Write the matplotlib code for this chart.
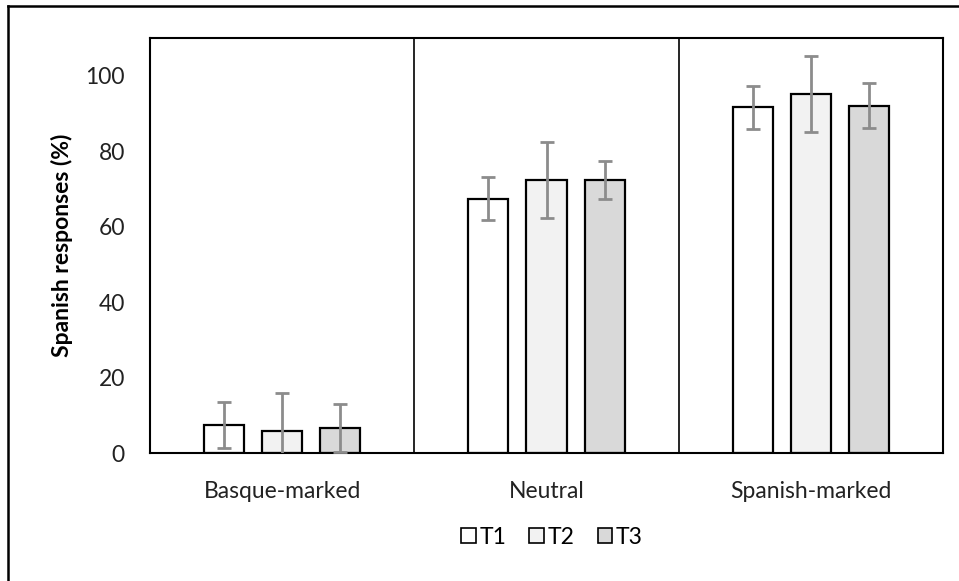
import matplotlib
matplotlib.use("Agg")
import matplotlib.pyplot as plt
import numpy as np
from matplotlib.lines import Line2D
from matplotlib.patches import Patch

categories = ["Basque-marked", "Neutral", "Spanish-marked"]
series = ["T1", "T2", "T3"]
values = {
    "T1": [7.4, 67.4, 91.6],
    "T2": [5.9, 72.4, 95.1],
    "T3": [6.6, 72.4, 92.1],
}
errors = {
    "T1": [6.0, 5.7, 5.6],
    "T2": [9.9, 10.0, 10.0],
    "T3": [6.4, 5.0, 6.0],
}
colors = {"T1": "#ffffff", "T2": "#f2f2f2", "T3": "#d9d9d9"}
yticks = [0, 20, 40, 60, 80, 100]

plt.rcParams['font.family'] = ['Lato', 'DejaVu Sans']

fig = plt.figure(figsize=(9.59, 5.81), dpi=100)
ax = fig.add_axes([150/959, 1-453/581, (943-150)/959, (453-38)/581])

x = np.arange(len(categories))
offsets = [-0.22, 0.0, 0.22]
width = 0.152
for s, off in zip(series, offsets):
    ax.bar(x + off, values[s], width, color=colors[s], edgecolor="black",
           linewidth=1.6, zorder=2)
    ax.errorbar(x + off, values[s], yerr=errors[s], fmt="none",
                ecolor="#8c8c8c", elinewidth=2, capsize=5, capthick=2, zorder=3)

for b in [0.5, 1.5]:
    ax.axvline(b, color="black", linewidth=1.2, zorder=1)

ax.set_xlim(-0.5, 2.5)
ax.set_ylim(0, 110)
ax.set_yticks(yticks)
ax.set_xticks(x)
ax.set_xticklabels(categories)
ax.tick_params(axis="both", length=0, labelsize=16.5, colors="#222222")
ax.tick_params(axis="y", pad=18)
ax.tick_params(axis="x", pad=20)
for sp in ax.spines.values():
    sp.set_linewidth(1.5)
    sp.set_color("black")

ax.set_ylabel("Spanish responses (%)", fontsize=16.5, fontweight="bold", labelpad=9)

handles = [Patch(facecolor=colors[s], edgecolor="black", linewidth=1.2) for s in series]
fig.legend(handles, series, loc="center", bbox_to_anchor=(552/959, 1-537/581),
           ncol=3, frameon=False, fontsize=16.5, handlelength=0.65, handleheight=0.65,
           handletextpad=0.15, columnspacing=1.0)

fig.add_artist(Line2D([8/959, 8/959], [0, 1-6/581], color="black", linewidth=1.8,
                      transform=fig.transFigure))
fig.add_artist(Line2D([8/959, 1], [1-6/581, 1-6/581], color="black", linewidth=1.8,
                      transform=fig.transFigure))

fig.savefig("out.png", dpi=100)
